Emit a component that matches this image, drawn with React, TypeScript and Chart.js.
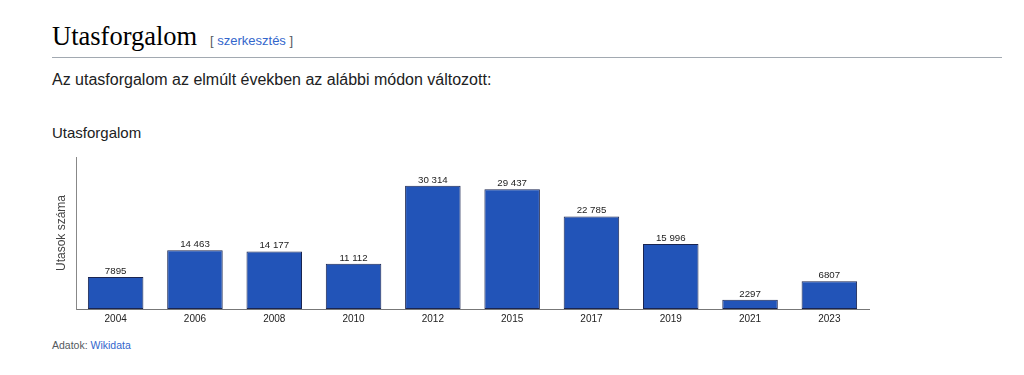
import React, { useEffect, useRef } from "react";
import { Chart, registerables } from "chart.js";

Chart.register(...registerables);

const years: string[] = ["2004", "2006", "2008", "2010", "2012", "2015", "2017", "2019", "2021", "2023"];
const passengers: number[] = [7895, 14463, 14177, 11112, 30314, 29437, 22785, 15996, 2297, 6807];
const yAxisMax = 37400;

const heading = "Utasforgalom";
const editText = "szerkesztés";
const intro = "Az utasforgalom az elmúlt években az alábbi módon változott:";
const chartTitle = "Utasforgalom";
const yTitle = "Utasok száma";

const SANS = "'Liberation Sans', Arial, sans-serif";

function fmt(n: number): string {
  if (n < 10000) return String(n);
  return String(n).replace(/\B(?=(\d{3})+(?!\d))/g, " ");
}

const valueLabels = {
  id: "valueLabels",
  afterDatasetsDraw(chart: any) {
    const ctx = chart.ctx;
    const meta = chart.getDatasetMeta(0);
    const data = chart.data.datasets[0].data as number[];
    ctx.save();
    ctx.font = `9.7px ${SANS}`;
    ctx.fillStyle = "#222";
    ctx.textAlign = "center";
    ctx.textBaseline = "alphabetic";
    meta.data.forEach((el: any, i: number) => {
      ctx.fillText(fmt(data[i]), el.x, el.y - 3);
    });
    ctx.restore();
  },
};

export default function App() {
  const canvasRef = useRef<HTMLCanvasElement | null>(null);

  useEffect(() => {
    if (!canvasRef.current) return;
    const chart = new Chart(canvasRef.current, {
      type: "bar",
      data: {
        labels: years,
        datasets: [
          {
            data: passengers,
            backgroundColor: "#2254b8",
            borderColor: "#1a2550",
            borderWidth: 1,
            borderSkipped: false,
            barPercentage: 0.7,
            categoryPercentage: 1,
          },
        ],
      },
      options: {
        responsive: false,
        animation: false,
        devicePixelRatio: 1,
        layout: { padding: { left: 0, right: 155, top: 17, bottom: 0 } },
        plugins: {
          legend: { display: false },
          tooltip: { enabled: false },
        },
        scales: {
          x: {
            grid: { display: false, drawTicks: false },
            border: { display: true, color: "#777", width: 1 },
            ticks: { font: { size: 10, family: SANS }, color: "#222", padding: 4 },
            afterFit: (scale: any) => {
              scale.height = 21;
            },
          },
          y: {
            min: 0,
            max: yAxisMax,
            grid: { display: false, drawTicks: false },
            border: { display: true, color: "#888", width: 1 },
            ticks: { display: false },
            title: {
              display: true,
              text: yTitle,
              font: { size: 12, family: SANS },
              color: "#444",
              padding: { top: 54, bottom: 0 },
            },
            afterFit: (scale: any) => {
              scale.width = 76;
            },
          },
        },
      },
      plugins: [valueLabels],
    });
    return () => chart.destroy();
  }, []);

  return (
    <div style={{ position: "absolute", left: 0, top: 0, width: 1024, height: 375, background: "#fff", fontFamily: SANS, color: "#202122" }}>
      <div style={{ position: "absolute", left: 52, top: 23, fontFamily: "'Liberation Serif', 'Times New Roman', serif", fontSize: 26.5, lineHeight: 1, whiteSpace: "nowrap", color: "#000" }}>
        {heading}
      </div>
      <div style={{ position: "absolute", left: 210, top: 34, fontSize: 13, lineHeight: 1, whiteSpace: "nowrap", color: "#54595d" }}>
        [ <span style={{ color: "#3366cc" }}>{editText}</span> ]
      </div>
      <div style={{ position: "absolute", left: 52, top: 57, width: 950, height: 1, background: "#a2a9b1" }} />
      <div style={{ position: "absolute", left: 52, top: 71.5, fontSize: 16, lineHeight: 1, whiteSpace: "nowrap" }}>
        {intro}
      </div>
      <div style={{ position: "absolute", left: 52, top: 125, fontSize: 15, lineHeight: 1, whiteSpace: "nowrap" }}>
        {chartTitle}
      </div>
      <canvas ref={canvasRef} width={1024} height={190} style={{ position: "absolute", left: 0, top: 140, width: 1024, height: 190 }} />
      <div style={{ position: "absolute", left: 52, top: 340, fontSize: 10.5, lineHeight: 1, whiteSpace: "nowrap", color: "#54595d" }}>
        Adatok: <span style={{ color: "#3366cc" }}>Wikidata</span>
      </div>
    </div>
  );
}
